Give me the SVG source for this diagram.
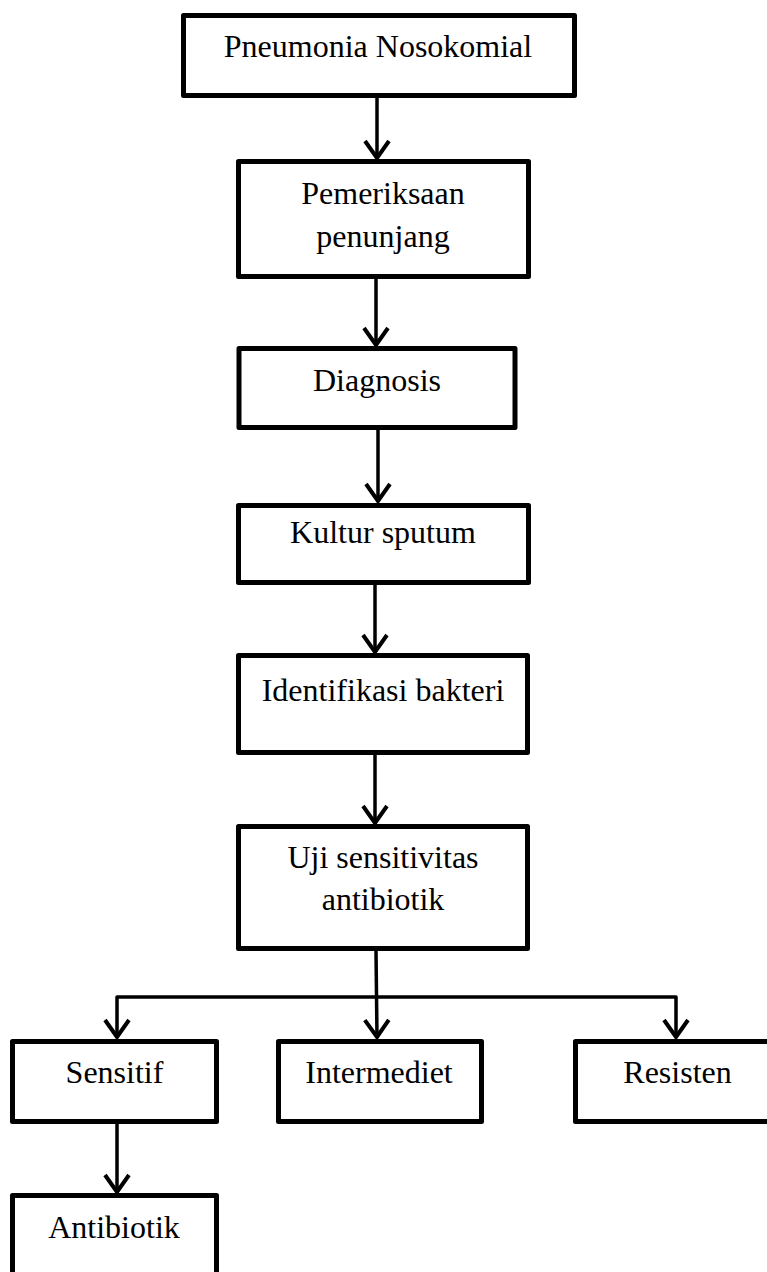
<svg xmlns="http://www.w3.org/2000/svg" width="767" height="1272" viewBox="0 0 767 1272">
<style>
.box{fill:#fff;stroke:#000;stroke-width:5;stroke-linejoin:round}
.t{font-family:"Liberation Serif","Times New Roman",serif;font-size:32px;fill:#000;text-anchor:middle}
.c{fill:none;stroke:#000;stroke-width:3.5;stroke-linejoin:round;marker-end:url(#arr)}
</style>
<defs>
<marker id="arr" viewBox="-20 -15 22 30" refX="0" refY="0" markerWidth="22" markerHeight="30" markerUnits="userSpaceOnUse" orient="auto" overflow="visible">
<path d="M-17 -12 L0 0 L-17 12" fill="none" stroke="#000" stroke-width="4"/>
</marker>
</defs>
<rect width="767" height="1272" fill="#fff"/>
<g id="connectors">
<path class="c" d="M377 98 V158"/>
<path class="c" d="M376 279 V345"/>
<path class="c" d="M378 430 V501"/>
<path class="c" d="M375 585 V652"/>
<path class="c" d="M375 755 V823"/>
<path class="c" d="M376 951 L377 1037"/>
<path class="c" d="M377 997 H117 V1037"/>
<path class="c" d="M377 997 H676 V1037"/>
<path class="c" d="M117 1124 V1192"/>
</g>
<g id="n1"><rect class="box" x="183.5" y="15.5" width="391" height="80"/><text class="t" x="378" y="57">Pneumonia Nosokomial</text></g>
<g id="n2"><rect class="box" x="238.5" y="161.5" width="290" height="115"/><text class="t" x="383" y="204">Pemeriksaan</text><text class="t" x="383" y="247">penunjang</text></g>
<g id="n3"><rect class="box" x="239" y="348.5" width="276" height="79"/><text class="t" x="377" y="391">Diagnosis</text></g>
<g id="n4"><rect class="box" x="238.5" y="505.5" width="290" height="77"/><text class="t" x="383" y="543">Kultur sputum</text></g>
<g id="n5"><rect class="box" x="238.5" y="655.5" width="289" height="97"/><text class="t" x="383" y="701">Identifikasi bakteri</text></g>
<g id="n6"><rect class="box" x="238.5" y="826.5" width="289" height="122"/><text class="t" x="383" y="868">Uji sensitivitas</text><text class="t" x="383" y="910">antibiotik</text></g>
<g id="n7"><rect class="box" x="12.5" y="1041.5" width="204" height="80"/><text class="t" x="114.5" y="1083">Sensitif</text></g>
<g id="n8"><rect class="box" x="278.5" y="1041.5" width="203" height="80"/><text class="t" x="379" y="1083">Intermediet</text></g>
<g id="n9"><rect class="box" x="575.5" y="1041.5" width="204" height="80"/><text class="t" x="677.5" y="1083">Resisten</text></g>
<g id="n10"><rect class="box" x="12.5" y="1195.5" width="204" height="100"/><text class="t" x="114" y="1238">Antibiotik</text></g>
</svg>
